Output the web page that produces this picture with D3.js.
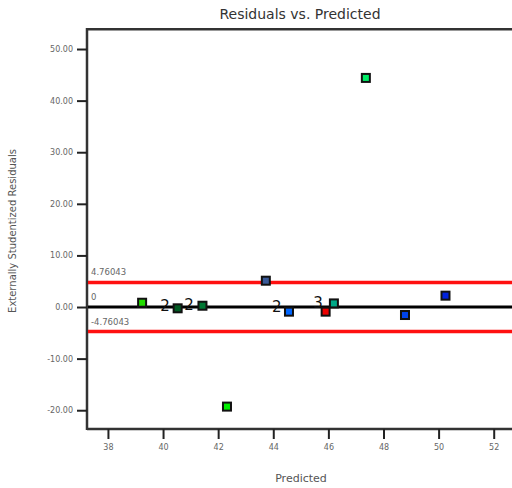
<!DOCTYPE html>
<html><head><meta charset="utf-8">
<script src="https://cdn.jsdelivr.net/npm/d3@7"></script>
<style>body{margin:0;background:#fff}svg{display:block}</style>
</head><body>
<svg id="c" width="512" height="488"></svg>
<script>
const predicted = [39.24, 40.53, 41.43, 42.32, 47.36, 43.73, 44.57, 45.90, 46.20, 48.78, 50.25];
const residuals = [0.83, -0.25, 0.25, -19.3, 44.4, 5.1, -0.9, -0.9, 0.7, -1.55, 2.2];
const pointColors = ["#22dd00", "#005a22", "#007733", "#00ee00", "#00ee66", "#3a5a99", "#0066ff", "#ee0000", "#00aa88", "#0044ee", "#0022dd"];
const countLabels = ["2", "2", "2", "3"];
const countX = [40.07, 40.94, 44.13, 45.62];
const countY = [0.2, 0.4, 0.05, 0.7];
const limit = 4.76043;
const limitLabels = ["4.76043", "0", "-4.76043"];
const xTicks = [38, 40, 42, 44, 46, 48, 50, 52];
const yTicks = [50, 40, 30, 20, 10, 0, -10, -20];

const svg = d3.select("#c");
const L = 87, T = 29, B = 429, R = 513;
const x = d3.scaleLinear().domain([37.24, 52.7]).range([L, R]);
const y = d3.scaleLinear().domain([-23.64, 53.88]).range([B, T]);
const font = "DejaVu Sans, sans-serif";

// frame
svg.append("line").attr("x1", L).attr("x2", 520).attr("y1", T).attr("y2", T).attr("stroke", "#333").attr("stroke-width", 2);
svg.append("line").attr("x1", L).attr("x2", 520).attr("y1", T + 1.5).attr("y2", T + 1.5).attr("stroke", "#999").attr("stroke-width", 1);

const gx = svg.append("g").attr("transform", `translate(0,${B})`)
  .call(d3.axisBottom(x).tickValues(xTicks).tickFormat(d => String(d)).tickSize(10).tickSizeOuter(0).tickPadding(5));
const gy = svg.append("g").attr("transform", `translate(${L},0)`)
  .call(d3.axisLeft(y).tickValues(yTicks).tickFormat(d => d.toFixed(2)).tickSize(10).tickSizeOuter(0).tickPadding(4));
[gx, gy].forEach(g => {
  g.select(".domain").attr("stroke", "#333").attr("stroke-width", 2.5);
  g.selectAll(".tick line").attr("stroke", "#222").attr("stroke-width", 2);
  g.selectAll(".tick text").attr("fill", "#666").attr("font-size", 8).attr("font-family", font);
});
gx.select(".domain").attr("d", `M${L},0H520`);
gy.select(".domain").attr("d", `M0,${T - 1}V${B + 1}`);

// reference lines
[limit, -limit].forEach(v => {
  svg.append("line").attr("x1", L + 1).attr("x2", 520).attr("y1", y(v)).attr("y2", y(v))
    .attr("stroke", "#ff1010").attr("stroke-width", 3.5);
});
svg.append("line").attr("x1", L + 1).attr("x2", 520).attr("y1", y(0)).attr("y2", y(0))
  .attr("stroke", "#000").attr("stroke-width", 3);

// limit labels
const limVals = [limit, 0, -limit];
svg.selectAll("text.lim").data(limitLabels).join("text").attr("class", "lim")
  .attr("x", L + 4).attr("y", (d, i) => y(limVals[i]) - 7)
  .attr("font-size", 8.5).attr("fill", "#666").attr("font-family", font)
  .text(d => d);

// count labels
svg.selectAll("text.cnt").data(countLabels).join("text").attr("class", "cnt")
  .attr("x", (d, i) => x(countX[i])).attr("y", (d, i) => y(countY[i]))
  .attr("text-anchor", "middle").attr("dominant-baseline", "central")
  .attr("font-size", 15).attr("fill", "#111").attr("font-family", font)
  .text(d => d);

// points
const s = 8;
svg.selectAll("rect.pt").data(predicted).join("rect").attr("class", "pt")
  .attr("x", d => x(d) - s / 2).attr("y", (d, i) => y(residuals[i]) - s / 2)
  .attr("width", s).attr("height", s)
  .attr("fill", (d, i) => pointColors[i]).attr("stroke", "#111").attr("stroke-width", 2);

// titles
svg.append("text").attr("x", 300).attr("y", 19).attr("text-anchor", "middle")
  .attr("font-size", 14).attr("fill", "#333").attr("font-family", font).text("Residuals vs. Predicted");
svg.append("text").attr("x", 301).attr("y", 482).attr("text-anchor", "middle")
  .attr("font-size", 11).attr("fill", "#555").attr("font-family", font).text("Predicted");
svg.append("text").attr("transform", "translate(16,231) rotate(-90)").attr("text-anchor", "middle")
  .attr("font-size", 10).attr("fill", "#555").attr("font-family", font).text("Externally Studentized Residuals");
</script>
</body></html>
